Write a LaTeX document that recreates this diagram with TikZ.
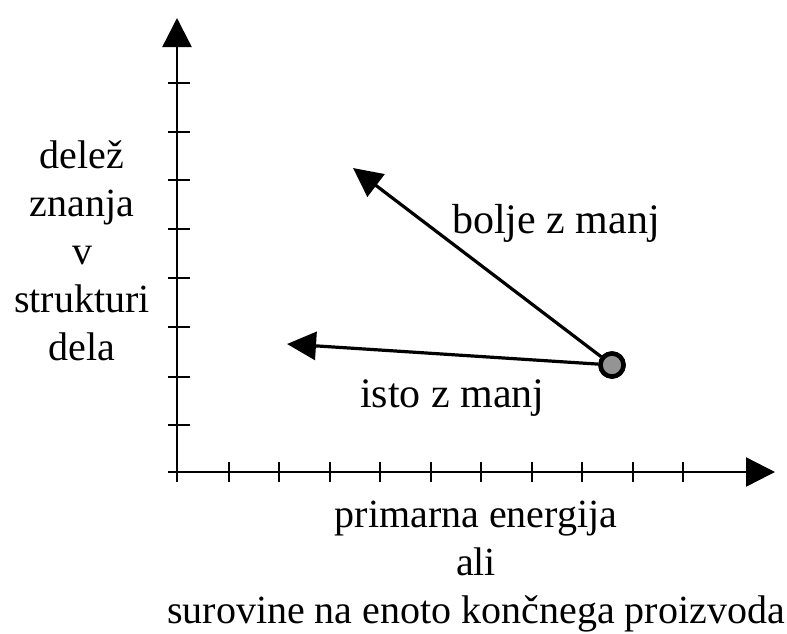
\documentclass[tikz,border=0pt]{standalone}
\usepackage{fontspec}
\setmainfont{Liberation Serif}
\usetikzlibrary{arrows.meta}
\begin{document}
\begin{tikzpicture}[x=1pt,y=-1pt,
  axisline/.style={line width=2.4pt,-{Triangle[length=29pt,width=29pt]}},
  tickline/.style={line width=2pt},
  arr/.style={line width=3.2pt,-{Triangle[length=29pt,width=28pt]}},
  dot/.style={circle,draw=black,line width=4.5pt,fill=black!42,inner sep=0pt,minimum size=23pt},
  lbl/.style={inner sep=0pt,font={\fontsize{40}{48}\selectfont}},
  albl/.style={inner sep=0pt,font={\fontsize{42}{48}\selectfont}}]
\useasboundingbox (0,0) rectangle (787,633);
% axes
\coordinate (O) at (177,472);
\coordinate (ytop) at (177,18);
\coordinate (xend) at (775,472);
\coordinate (ybot) at (177,482);
\coordinate (xbeg) at (168,472);
\draw[axisline] (ybot) -- (ytop);
\draw[axisline] (xbeg) -- (xend);
% ticks
\foreach \y in {83,132,180,229,278,327,377,425}
  \draw[tickline] (168,\y) -- (190,\y);
\foreach \x in {229,279,330,380,431,481,532,582,633,683}
  \draw[tickline] (\x,462) -- (\x,482);
% point and arrows
\coordinate (A1) at (353,168);
\coordinate (A2) at (287,344);
\node[dot] (P) at (612,365) {};
\draw[arr] (P) -- (A1);
\draw[arr] (P) -- (A2);
\node[dot] (P2) at (612,365) {};
% labels
\node[albl,anchor=base west] (bolje) at (452,233) {bolje z manj};
\node[albl,anchor=base west] (isto) at (360,407) {isto z manj};
\node[lbl,align=center,anchor=base] (ylab) at (82,360) {delež\\znanja\\v\\strukturi\\dela};
\node[lbl,align=center,anchor=base] (xlab) at (476,623) {primarna energija\\ali\\surovine na enoto končnega proizvoda};
\end{tikzpicture}
\end{document}
